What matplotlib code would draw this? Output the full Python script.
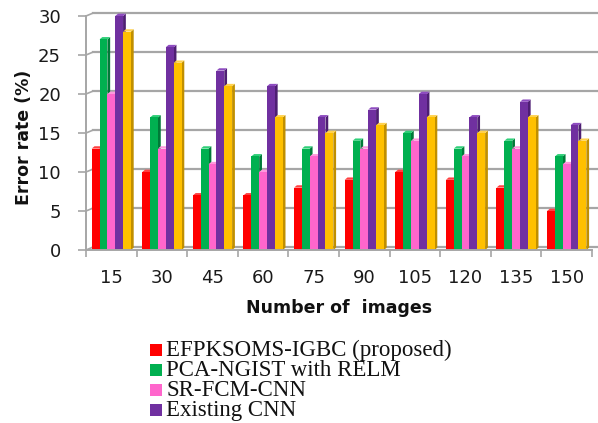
import matplotlib
matplotlib.use("Agg")
import matplotlib.pyplot as plt
from matplotlib.patches import Polygon, Rectangle
import numpy as np

# Number of images per test
categories = ["15", "30", "45", "60", "75", "90", "105", "120", "135", "150"]

# Error rate (%) for each method
efpksoms_igbc = [13, 10, 7, 7, 8, 9, 10, 9, 8, 5]
pca_ngist_relm = [27, 17, 13, 12, 13, 14, 15, 13, 14, 12]
sr_fcm_cnn = [20, 13, 11, 10, 12, 13, 14, 12, 13, 11]
existing_cnn = [30, 26, 23, 21, 17, 18, 20, 17, 19, 16]
fifth_method = [28, 24, 21, 17, 15, 16, 17, 15, 17, 14]

series = [efpksoms_igbc, pca_ngist_relm, sr_fcm_cnn, existing_cnn, fifth_method]
legend_labels = ["EFPKSOMS-IGBC (proposed)", "PCA-NGIST with RELM",
                 "SR-FCM-CNN", "Existing CNN"]

front_colors = ["#ff0000", "#00b050", "#ff66cc", "#7030a0", "#ffc000"]
side_colors = ["#b00000", "#007a38", "#c94aa0", "#4e1f73", "#c08f00"]
top_colors = ["#ff4040", "#2fcf78", "#ff99dd", "#8e4cc0", "#ffd24d"]

W, H = 598, 423
fig = plt.figure(figsize=(W / 100, H / 100), dpi=100)
x_left, x_right, y_zero, y_top = 86, 592, 250, 16
ax = fig.add_axes([x_left / W, 1 - y_zero / H, (x_right - x_left) / W, (y_zero - y_top) / H])

n = len(categories)
ax.set_xlim(-0.5, n - 0.5)
ax.set_ylim(0, 30)

grid_color = "#a6a6a6"
wall_dx, wall_dy = 0.13, 0.35
for v in range(0, 31, 5):
    ax.plot([-0.5 + wall_dx, n - 0.5 + 0.2], [v + wall_dy, v + wall_dy], color=grid_color,
            lw=1.6, clip_on=False, zorder=1)
    ax.plot([-0.5, -0.5 + wall_dx], [v, v + wall_dy], color=grid_color, lw=1.2,
            clip_on=False, zorder=1)

# 3D-style columns
bw = 0.155
dx, dy = 0.055, 0.3
x = np.arange(n)
for i, vals in enumerate(series):
    offs = (i - 2) * bw
    for xi, v in zip(x, vals):
        x0 = xi + offs - bw / 2
        x1 = x0 + bw
        ax.add_patch(Polygon([(x1, 0), (x1 + dx, dy), (x1 + dx, v + dy), (x1, v)],
                             closed=True, facecolor=side_colors[i], edgecolor="none",
                             zorder=2 + i * 0.1, clip_on=False))
        ax.add_patch(Polygon([(x0, v), (x0 + dx, v + dy), (x1 + dx, v + dy), (x1, v)],
                             closed=True, facecolor=top_colors[i], edgecolor="none",
                             zorder=2 + i * 0.1, clip_on=False))
        ax.add_patch(Rectangle((x0, 0), bw, v, facecolor=front_colors[i],
                               edgecolor="none", zorder=2.05 + i * 0.1, clip_on=False))

# axes lines and ticks
for s in ["top", "right"]:
    ax.spines[s].set_visible(False)
for s in ["left", "bottom"]:
    ax.spines[s].set_color(grid_color)
    ax.spines[s].set_linewidth(1.4)
ax.set_yticks(range(0, 31, 5))
ax.tick_params(axis="y", direction="out", length=6, width=1.2, color=grid_color,
               labelsize=13, pad=12, labelcolor="#1a1a1a")
ax.set_xticks(x)
ax.set_xticklabels(categories)
ax.set_xticks(np.arange(-0.5, n, 1.0), minor=True)
ax.tick_params(axis="x", which="major", length=0, labelsize=13, pad=14, labelcolor="#1a1a1a")
ax.tick_params(axis="x", which="minor", direction="out", length=5, width=1.2, color=grid_color)
for lab in ax.get_xticklabels() + ax.get_yticklabels():
    lab.set_family("DejaVu Sans")

fig.text(339 / W, 1 - 308 / H, "Number of  images", ha="center", va="center",
         fontsize=12.5, fontweight="bold", family="DejaVu Sans", color="#111111")
fig.text(24 / W, 1 - 137 / H, "Error rate (%)", ha="center", va="center",
         rotation=90, fontsize=12.5, fontweight="bold", family="DejaVu Sans", color="#111111")

# legend
for k, lab in enumerate(legend_labels):
    yc = 350 + 20 * k
    fig.patches.append(Rectangle((150 / W, 1 - (yc + 6) / H), 12 / W, 12 / H,
                                 transform=fig.transFigure, facecolor=front_colors[k],
                                 edgecolor="none"))
    fig.text(166 / W, 1 - yc / H, lab, ha="left", va="center", fontsize=16.5,
             family="Liberation Serif", color="#111111")

fig.savefig("out.png", dpi=100)
